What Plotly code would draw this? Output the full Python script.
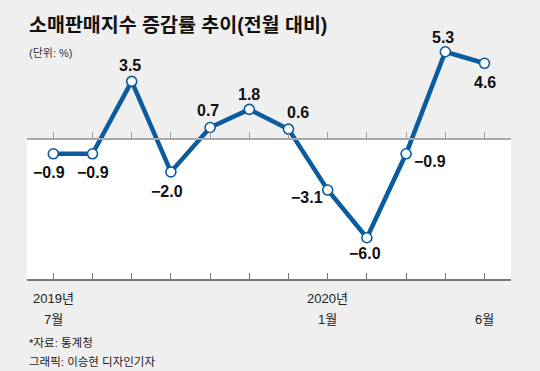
import plotly.graph_objects as go

# ---- data ----
months = ["2019-07", "2019-08", "2019-09", "2019-10", "2019-11", "2019-12",
          "2020-01", "2020-02", "2020-03", "2020-04", "2020-05", "2020-06"]
values = [-0.9, -0.9, 3.5, -2.0, 0.7, 1.8, 0.6, -3.1, -6.0, -0.9, 5.3, 4.6]
year_labels = ["2019년", "", "", "", "", "", "", "2020년", "", "", "", ""]
month_labels = ["7월", "", "", "", "", "", "", "1월", "", "", "", "6월"]
# label offsets (px) relative to each point
label_dx = [-4, 0, -2, -4, -2, 0, 9, -21, -2, 24, -2, 0]
label_dy = [-19, -19, 16, -20, 17, 15, 17, -7, -16, -8, 14, -19]

title = "소매판매지수 증감률 추이(전월 대비)"
unit = "(단위: %)"
source = "*자료: 통계청"
credit = "그래픽: 이승현 디자인기자"

W, H = 540, 371
BG = "#efefef"
BLUE = "#0b5c9f"
KFONT = "Liberation Sans, Noto Sans CJK KR, sans-serif"
NFONT = "Liberation Sans Narrow, Arial Narrow, Liberation Sans, sans-serif"

x = list(range(len(values)))

# pixel geometry -> axis ranges
x_left_px, x_right_px = 27, 511
x0_px, dx_px = 53.3, 39.2
y0_px, ky = 139.0, 16.46
bottom_px = 280

xr = [(x_left_px - x0_px) / dx_px, (x_right_px - x0_px) / dx_px]
yr = [(y0_px - H) / ky, y0_px / ky]
dom = [x_left_px / W, x_right_px / W]
zero_pos = (H - y0_px) / H
bottom_pos = (H - bottom_px) / H

fig = go.Figure()
# dummy trace to activate xaxis2
fig.add_trace(go.Scatter(x=[0], y=[0], xaxis="x2", yaxis="y", mode="markers",
                         marker=dict(opacity=0), hoverinfo="skip"))
fig.add_trace(go.Scatter(
    x=x, y=values, mode="lines+markers",
    line=dict(color=BLUE, width=4.5),
    marker=dict(size=10, color="white", line=dict(color=BLUE, width=1.6)),
    hoverinfo="skip", xaxis="x", yaxis="y",
))

annotations = []
for i, v in enumerate(values):
    txt = ("\u2212" if v < 0 else "") + f"{abs(v):.1f}"
    annotations.append(dict(
        x=i, y=v, xref="x", yref="y", text=f"<b>{txt}</b>", showarrow=False,
        xshift=label_dx[i], yshift=label_dy[i],
        font=dict(family=NFONT, size=16, color="#111"),
        xanchor="center", yanchor="middle",
    ))
for i in x:
    if year_labels[i]:
        annotations.append(dict(
            x=i, y=(H - 298) / H, xref="x2", yref="paper", text=year_labels[i],
            showarrow=False, font=dict(family=KFONT, size=13, color="#222"),
            xanchor="center", yanchor="middle"))
    if month_labels[i]:
        annotations.append(dict(
            x=i, y=(H - 319) / H, xref="x2", yref="paper", text=month_labels[i],
            showarrow=False, font=dict(family=KFONT, size=13, color="#222"),
            xanchor="center", yanchor="middle"))

annotations += [
    dict(x=27 / W, y=(H - 25) / H, xref="paper", yref="paper", text=f"<b>{title}</b>",
         showarrow=False, xanchor="left", yanchor="middle",
         font=dict(family=KFONT, size=19.5, color="#111")),
    dict(x=27 / W, y=(H - 53) / H, xref="paper", yref="paper", text=unit,
         showarrow=False, xanchor="left", yanchor="middle",
         font=dict(family=KFONT, size=11, color="#333")),
    dict(x=27 / W, y=(H - 343) / H, xref="paper", yref="paper", text=source,
         showarrow=False, xanchor="left", yanchor="middle",
         font=dict(family=KFONT, size=11.5, color="#222")),
    dict(x=27 / W, y=(H - 362) / H, xref="paper", yref="paper", text=credit,
         showarrow=False, xanchor="left", yanchor="middle",
         font=dict(family=KFONT, size=11.5, color="#222")),
]

fig.update_layout(
    width=W, height=H, margin=dict(l=0, r=0, t=0, b=0),
    paper_bgcolor=BG, plot_bgcolor=BG, showlegend=False,
    xaxis=dict(domain=dom, range=xr, anchor="free", position=zero_pos,
               showline=True, linecolor="#a8a8a8", linewidth=2,
               ticks="inside", ticklen=6, tickwidth=1, tickcolor="#a0a0a0",
               tickvals=x, showticklabels=False, showgrid=False, zeroline=False,
               fixedrange=True),
    xaxis2=dict(domain=dom, range=xr, anchor="free", position=bottom_pos,
                overlaying="x",
                showline=True, linecolor="#7a7a7a", linewidth=2,
                ticks="inside", ticklen=6, tickwidth=1, tickcolor="#7a7a7a",
                tickvals=x, showticklabels=False, showgrid=False, zeroline=False,
                fixedrange=True),
    yaxis=dict(domain=[0, 1], range=yr, visible=False, fixedrange=True),
    shapes=[dict(type="rect", xref="paper", yref="paper",
                 x0=dom[0], x1=dom[1], y0=bottom_pos, y1=zero_pos,
                 fillcolor="white", line=dict(width=0), layer="below")],
    annotations=annotations,
)

fig.write_html(
    "out.html",
    config={"displayModeBar": False},
    post_script="document.body.style.margin='0';document.body.style.padding='0';"
                "document.body.style.overflow='hidden';"
                "document.body.style.background='#efefef';",
)
